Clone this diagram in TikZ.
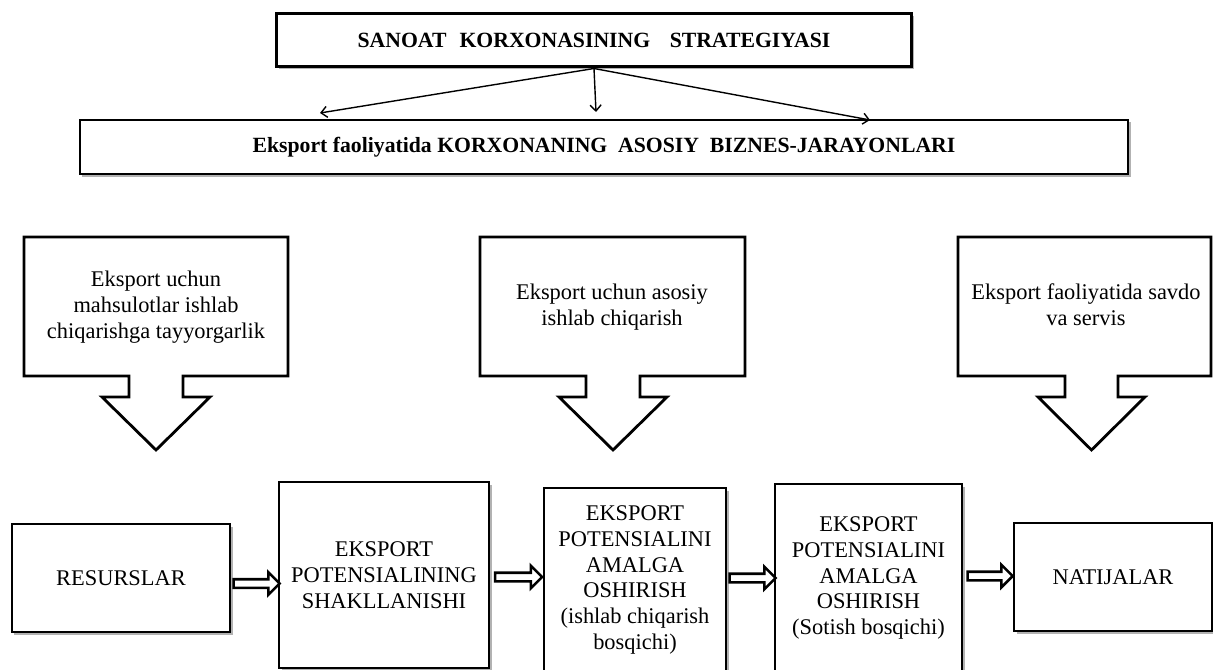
\documentclass[tikz,border=0pt]{standalone}
\usepackage{fontspec}
\setmainfont{Liberation Serif}
\usetikzlibrary{shapes.arrows,arrows.meta,shadows,calc}
\tikzset{
  txt/.style={font=\fontsize{22.5}{26}\selectfont, align=center, text=black},
  boldtxt/.style={font=\fontsize{21.8}{24}\selectfont\bfseries, text=black},
  boxshadow/.style={drop shadow={shadow xshift=2.5bp, shadow yshift=-2.5bp, fill=black, opacity=0.3}},
  plainbox/.style={draw, fill=white, rectangle, inner sep=0pt, boxshadow},
  calloutline/.style={draw, line width=2.8bp, fill=white, line join=miter},
  blockarrow/.style={single arrow, draw, line width=2.6bp, fill=white, inner sep=3bp,
     minimum width=0pt, single arrow head extend=7bp, single arrow tip angle=90, anchor=center},
  thinarrow/.style={draw, line width=1.4bp, -{Straight Barb[length=6bp,width=11bp,line width=1.4bp]}}
}
\newcommand\callbox[4]{% left, right, stem left, stem right
  \path[calloutline] (#1,237) -- (#2,237) -- (#2,376) -- (#4,376) -- (#4,397)
   -- ({#4+27},397) -- ({(#3+#4)/2},450) -- ({#3-27},397) -- (#3,397) -- (#3,376)
   -- (#1,376) -- cycle;
}
\begin{document}
\begin{tikzpicture}[x=1bp,y=-1bp]
\useasboundingbox[fill=white] (0,0) rectangle (1213,670);

% top boxes
\node[plainbox, line width=3bp, minimum width=634bp, minimum height=53bp, boldtxt] (top) at (594,40.5)
  {SANOAT\hspace{0.6em}KORXONASINING\hspace{0.9em}STRATEGIYASI};
\node[plainbox, line width=1.6bp, minimum width=1048bp, minimum height=54bp, boldtxt] (biz) at (604,147)
  {Eksport faoliyatida KORXONANING\hspace{0.5em}ASOSIY\hspace{0.5em}BIZNES-JARAYONLARI};

\coordinate (lt) at (320,113);
\coordinate (mt) at (596,112);
\coordinate (rt) at (870,120);
\draw[thinarrow] (top.south) -- (lt);
\draw[thinarrow] (top.south) -- (mt);
\draw[thinarrow] (top.south) -- (rt);

% callouts
\callbox{24}{288}{129}{183}
\callbox{480}{745}{586}{640}
\callbox{958}{1211}{1065}{1118}
\node[txt] (c1) at (156,307) {Eksport uchun\\mahsulotlar ishlab\\chiqarishga tayyorgarlik};
\node[txt] (c2) at (612,307) {Eksport uchun asosiy\\ishlab chiqarish};
\node[txt] (c3) at (1086,305) {Eksport faoliyatida savdo\\va servis};

% bottom boxes
\node[plainbox, line width=1.4bp, minimum width=218bp, minimum height=108bp, txt] (res) at (121,578) {RESURSLAR};
\node[plainbox, line width=1.4bp, minimum width=210bp, minimum height=186bp, txt] (sh) at (384,575)
  {EKSPORT\\POTENSIALINING\\SHAKLLANISHI};
\node[plainbox, line width=1.4bp, minimum width=182bp, minimum height=184bp, txt] (am1) at (635,580)
  {EKSPORT\\POTENSIALINI\\AMALGA\\OSHIRISH\\(ishlab chiqarish\\bosqichi)};
\node[plainbox, line width=1.4bp, minimum width=187bp, minimum height=188bp, txt] (am2) at (868.5,578)
  {EKSPORT\\POTENSIALINI\\AMALGA\\OSHIRISH\\(Sotish bosqichi)};
\node[plainbox, line width=1.4bp, minimum width=198bp, minimum height=108bp, txt] (nat) at (1113,577) {NATIJALAR};

% block arrows
\node[blockarrow, minimum height=46bp] (a1) at ($(res.east)!0.5!(sh.west)+(0,7)$) {};
\node[blockarrow, minimum height=47bp] (a2) at ($(sh.east)!0.5!(am1.west)+(0,-0.5)$) {};
\node[blockarrow, minimum height=46bp] (a3) at ($(am1.east)!0.5!(am2.west)+(0,-1)$) {};
\node[blockarrow, minimum height=45bp] (a4) at ($(am2.east)!0.5!(nat.west)+(0,-1.5)$) {};
\end{tikzpicture}
\end{document}
